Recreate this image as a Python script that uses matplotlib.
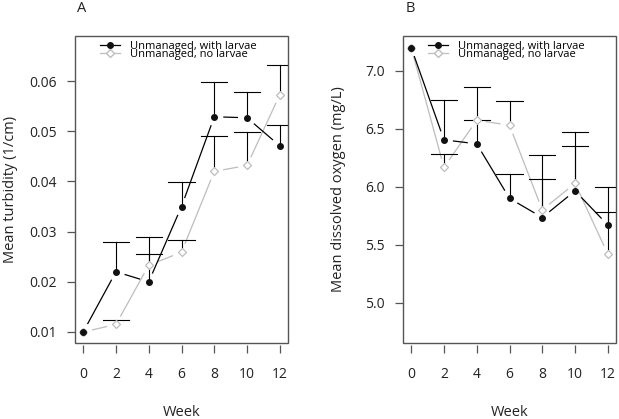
import numpy as np
import matplotlib.pyplot as plt
from matplotlib.lines import Line2D
from matplotlib.patches import Rectangle

plt.rcParams['font.family'] = ['Open Sans', 'DejaVu Sans']

weeks = [0, 2, 4, 6, 8, 10, 12]

# panel A: turbidity
turb_larvae = [0.0100, 0.0220, 0.0200, 0.0350, 0.0529, 0.0527, 0.0471]
turb_larvae_top = [0.0100, 0.0279, 0.0290, 0.0399, 0.0598, 0.0578, 0.0513]
turb_nolarvae = [0.0100, 0.0115, 0.0233, 0.0259, 0.0420, 0.0432, 0.0573]
turb_nolarvae_top = [0.0100, 0.0123, 0.0255, 0.0284, 0.0490, 0.0498, 0.0632]

# panel B: dissolved oxygen
do_larvae = [7.20, 6.405, 6.37, 5.90, 5.735, 5.965, 5.67]
do_larvae_top = [7.20, 6.75, 6.86, 6.107, 6.276, 6.47, 6.00]
do_nolarvae = [7.20, 6.167, 6.574, 6.53, 5.80, 6.03, 5.42]
do_nolarvae_top = [7.20, 6.285, 6.58, 6.736, 6.063, 6.35, 5.78]

labels = ["Unmanaged, with larvae", "Unmanaged, no larvae"]
GREY = "#bdbdbd"
AXCOL = "#555555"

fig = plt.figure(figsize=(6.19, 4.19), dpi=100)
axA = fig.add_axes([75 / 619, 76 / 419, 213 / 619, 307 / 419])
axB = fig.add_axes([403 / 619, 76 / 419, 213 / 619, 307 / 419])


def gapped_line(ax, x, y, color, gap=9):
    # R type="b": segments stop short of the points
    pts = ax.transData.transform(np.column_stack([x, y]).astype(float))
    inv = ax.transData.inverted()
    for p, q in zip(pts[:-1], pts[1:]):
        d = q - p
        L = np.hypot(*d)
        if L <= 2 * gap:
            continue
        u = d / L
        ends = inv.transform(np.array([p + u * gap, q - u * gap]))
        ax.plot(ends[:, 0], ends[:, 1], color=color, lw=0.9,
                solid_capstyle='butt', zorder=2)


def errbars(ax, x, y, top, cap=0.8):
    for xi, yi, ti in zip(x, y, top):
        if ti <= yi:
            continue
        ax.plot([xi, xi], [yi, ti], color='black', lw=0.8)
        ax.plot([xi - cap, xi + cap], [ti, ti], color='black', lw=0.8)


def panel(ax, letter, ylab, ylim, yticks, ytl, s1, t1, s2, t2):
    ax.set_xlim(-0.5, 12.5)
    ax.set_ylim(*ylim)
    for sp in ax.spines.values():
        sp.set_color('none')
    ax.spines['bottom'].set_position(('outward', 1.5))
    ax.add_patch(Rectangle((0, 0), 1, 1, transform=ax.transAxes, fill=False,
                           ec=AXCOL, lw=1.0, clip_on=False, zorder=5))
    ax.set_xticks(weeks)
    ax.set_yticks(yticks)
    ax.set_yticklabels(ytl)
    ax.tick_params(axis='both', direction='out', length=6, width=0.9, color=AXCOL,
                   labelsize=10, labelcolor='#222222')
    ax.tick_params(axis='x', pad=10)
    ax.tick_params(axis='y', pad=7)
    ax.set_xlabel("Week", fontsize=10.5, labelpad=16, color='#222222')
    ax.set_ylabel(ylab, fontsize=10.5, color='#222222', va='center')
    ax.yaxis.set_label_coords(-64 / 213, 0.5)
    ax.text(0.01, 1.088, letter, transform=ax.transAxes, fontsize=10.5,
            ha='left', va='center', color='#222222')

    gapped_line(ax, weeks, s2, GREY)
    ax.plot(weeks, s2, ls='none', marker='D', ms=4.2, mfc='white', mec=GREY,
            mew=0.9, zorder=3)
    gapped_line(ax, weeks, s1, 'black')
    ax.plot(weeks, s1, ls='none', marker='o', ms=4.0, mfc='#111111', mec='#111111',
            zorder=4)
    errbars(ax, weeks, s1, t1)
    errbars(ax, weeks, s2, t2)

    handles = [
        Line2D([], [], color='black', lw=0.9, marker='o', ms=4, mfc='#111111', mec='#111111'),
        Line2D([], [], color=GREY, lw=0.9, marker='D', ms=3.8, mfc='white', mec=GREY),
    ]
    ax.legend(handles, labels, loc='upper left', bbox_to_anchor=(0.11, 0.99),
              frameon=False, fontsize=8, handlelength=1.8, handletextpad=0.9,
              labelspacing=-0.25, borderpad=0.15, borderaxespad=0, numpoints=1)


panel(axA, "A", "Mean turbidity (1/cm)", (0.0078, 0.069),
      [0.01, 0.02, 0.03, 0.04, 0.05, 0.06],
      ["0.01", "0.02", "0.03", "0.04", "0.05", "0.06"],
      turb_larvae, turb_larvae_top, turb_nolarvae, turb_nolarvae_top)
panel(axB, "B", "Mean dissolved oxygen (mg/L)", (4.653, 7.30),
      [5.0, 5.5, 6.0, 6.5, 7.0],
      ["5.0", "5.5", "6.0", "6.5", "7.0"],
      do_larvae, do_larvae_top, do_nolarvae, do_nolarvae_top)

fig.savefig("out.png", dpi=100)
